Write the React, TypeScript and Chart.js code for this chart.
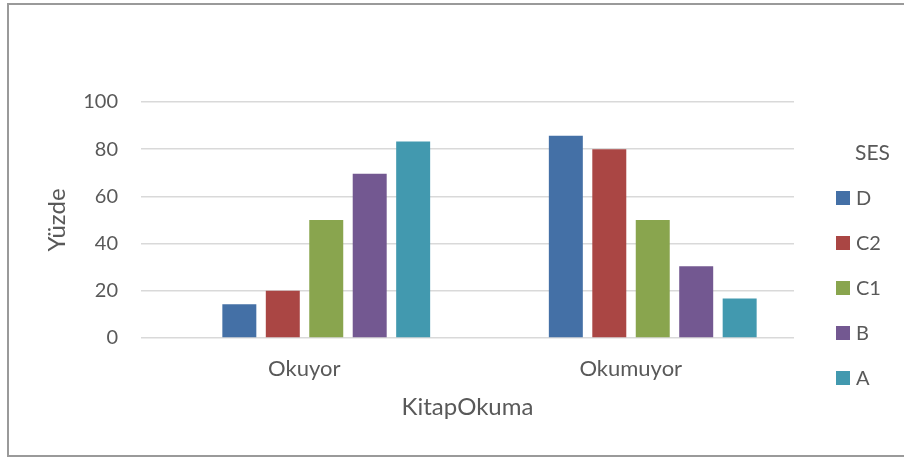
import React, { useEffect, useRef } from 'react';
import { Chart, registerables } from 'chart.js';

Chart.register(...registerables);

// ---- data ----
const categories = ['Okuyor', 'Okumuyor'];
const seriesNames = ['D', 'C2', 'C1', 'B', 'A'];
const seriesD = [14.3, 85.7];
const seriesC2 = [20, 80];
const seriesC1 = [50, 50];
const seriesB = [69.6, 30.4];
const seriesA = [83.3, 16.7];
const seriesColors = ['#4470A6', '#AA4644', '#89A54E', '#735891', '#4299AF'];
const yTicks = [0, 20, 40, 60, 80, 100];
const xAxisTitle = 'KitapOkuma';
const yAxisTitle = 'Yüzde';
const legendTitle = 'SES';

const FONT = 'Lato, "Open Sans", sans-serif';
const TEXT = '#595959';
const BAR_SHIFT = 22;

// bars in the reference sit slightly right of their category label
const barShiftPlugin = {
  id: 'barShift',
  beforeDatasetsDraw(chart: any) {
    chart.ctx.save();
    chart.ctx.translate(BAR_SHIFT, 0);
  },
  afterDatasetsDraw(chart: any) {
    chart.ctx.restore();
  },
};

const sideLegendPlugin = {
  id: 'sideLegend',
  afterDraw(chart: any) {
    const { ctx, chartArea } = chart;
    const x0 = chartArea.right + 42;
    ctx.save();
    ctx.textAlign = 'left';
    ctx.textBaseline = 'alphabetic';
    ctx.fillStyle = TEXT;
    ctx.font = `21px ${FONT}`;
    ctx.fillText(legendTitle, x0 + 19, 160);
    chart.data.datasets.forEach((ds: any, i: number) => {
      const top = 191 + i * 45;
      ctx.fillStyle = ds.backgroundColor;
      ctx.fillRect(x0, top, 14, 14);
      ctx.fillStyle = TEXT;
      ctx.font = `20px ${FONT}`;
      ctx.fillText(ds.label, x0 + 20, top + 14);
    });
    ctx.restore();
  },
};

export default function App() {
  const canvasRef = useRef<HTMLCanvasElement | null>(null);

  useEffect(() => {
    document.body.style.margin = '0';
    const canvas = canvasRef.current;
    if (!canvas) return;
    const values = [seriesD, seriesC2, seriesC1, seriesB, seriesA];
    const chart = new Chart(canvas, {
      type: 'bar',
      data: {
        labels: categories,
        datasets: seriesNames.map((name, i) => ({
          label: name,
          data: values[i],
          backgroundColor: seriesColors[i],
          borderWidth: 0,
        })),
      },
      options: {
        responsive: false,
        maintainAspectRatio: false,
        animation: false,
        layout: { padding: { left: 0, right: 110, top: 102, bottom: 0 } },
        datasets: { bar: { categoryPercentage: 0.6655, barPercentage: 0.782 } } as any,
        plugins: {
          legend: { display: false },
          tooltip: { enabled: false },
        },
        scales: {
          x: {
            grid: { display: false, drawTicks: false },
            border: { display: false },
            ticks: {
              font: { family: FONT, size: 22 },
              color: TEXT,
              padding: 18,
              maxRotation: 0,
              autoSkip: false,
            },
            title: {
              display: true,
              text: xAxisTitle,
              font: { family: FONT, size: 24 },
              color: TEXT,
              padding: { top: 0, bottom: 35.5 },
            },
            afterFit: (s: any) => {
              s.height = 119;
            },
          },
          y: {
            min: 0,
            max: 100,
            grid: { color: '#D9D9D9', lineWidth: 1.5, drawTicks: false },
            border: { display: false },
            ticks: {
              stepSize: 20,
              font: { family: FONT, size: 20 },
              color: TEXT,
              padding: 23,
            },
            afterBuildTicks: (s: any) => {
              s.ticks = yTicks.map((v) => ({ value: v }));
            },
            title: {
              display: true,
              text: yAxisTitle,
              font: { family: FONT, size: 24 },
              color: TEXT,
              padding: { top: 43, bottom: 0 },
            },
            afterFit: (s: any) => {
              s.width = 141;
            },
          },
        },
      },
      plugins: [barShiftPlugin, sideLegendPlugin],
    });
    return () => chart.destroy();
  }, []);

  return (
    <div style={{ position: 'relative', width: 904, height: 457, overflow: 'hidden', background: '#fff' }}>
      <style>{'body{margin:0;overflow:hidden;}'}</style>
      <div
        style={{
          position: 'absolute',
          left: 7,
          top: 3,
          width: 1000,
          height: 450,
          border: '2px solid #9a9a9a',
          pointerEvents: 'none',
        }}
      />
      <canvas
        ref={canvasRef}
        width={904}
        height={457}
        style={{ position: 'absolute', left: 0, top: 0, width: 904, height: 457 }}
      />
    </div>
  );
}
